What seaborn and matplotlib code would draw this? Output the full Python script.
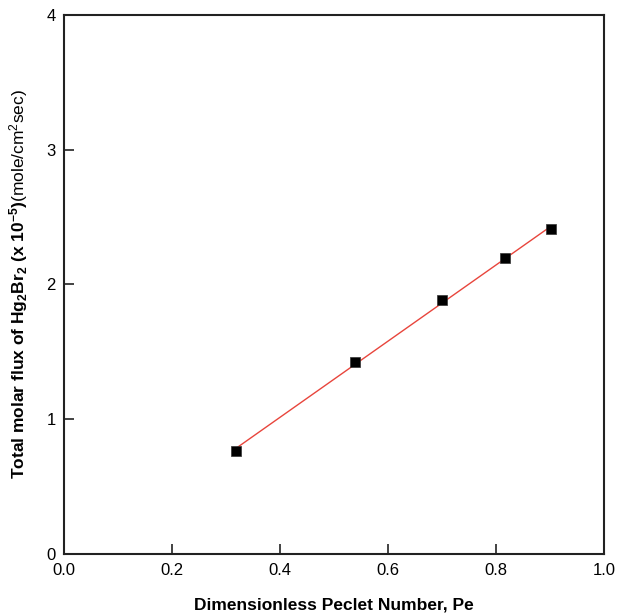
import matplotlib
matplotlib.use("Agg")
import matplotlib.pyplot as plt
import seaborn as sns
import pandas as pd

peclet = [0.318, 0.540, 0.701, 0.817, 0.903]
flux = [0.764, 1.419, 1.883, 2.197, 2.410]

x_ticks = [0.0, 0.2, 0.4, 0.6, 0.8, 1.0]
x_ticklabels = ["0.0", "0.2", "0.4", "0.6", "0.8", "1.0"]
y_ticks = [0, 1, 2, 3, 4]
y_ticklabels = ["0", "1", "2", "3", "4"]

sns.set_theme(style="white")
plt.rcParams['font.family'] = ['Liberation Sans', 'DejaVu Sans']
plt.rcParams['mathtext.fontset'] = 'custom'
plt.rcParams['mathtext.rm'] = 'Liberation Sans'
plt.rcParams['mathtext.bf'] = 'Liberation Sans:bold'
plt.rcParams['mathtext.it'] = 'Liberation Sans:italic'
plt.rcParams['text.color'] = 'black'
plt.rcParams['axes.labelcolor'] = 'black'

df = pd.DataFrame({"Pe": peclet, "flux": flux})

fig = plt.figure(figsize=(6.27, 6.14), dpi=100)
ax = fig.add_axes([0.102, 0.0985, 0.861, 0.877])

sns.regplot(data=df, x="Pe", y="flux", ax=ax, scatter=False, ci=None,
            line_kws={"color": "#e8453c", "linewidth": 1.0})
sns.scatterplot(data=df, x="Pe", y="flux", ax=ax, marker="s", color="black",
                s=45, edgecolor="#333333", linewidth=0.5, zorder=5)

ax.set_xlim(0, 1.0)
ax.set_ylim(0, 4)
ax.set_xticks(x_ticks)
ax.set_xticklabels(x_ticklabels)
ax.set_yticks(y_ticks)
ax.set_yticklabels(y_ticklabels)
ax.tick_params(direction="in", length=7, width=1.2, colors="#222222",
               labelsize=12, labelcolor="black", bottom=True, left=True,
               top=False, right=False)
ax.tick_params(axis="x", pad=7)
ax.tick_params(axis="y", pad=6)

for sp in ax.spines.values():
    sp.set_color("#222222")
    sp.set_linewidth(1.5)

ax.set_xlabel("Dimensionless Peclet Number, Pe", fontsize=12.5,
              fontweight="bold", labelpad=14, color="black")
ax.set_ylabel(r"Total molar flux of Hg$_\mathbf{2}$Br$_\mathbf{2}$ (x 10$^\mathbf{-5}$)$\mathrm{(mole/cm}^\mathrm{2}\mathrm{sec)}$",
              fontsize=12.5, fontweight="bold", labelpad=12, color="black")

fig.savefig("out.png", dpi=100, facecolor="white")
